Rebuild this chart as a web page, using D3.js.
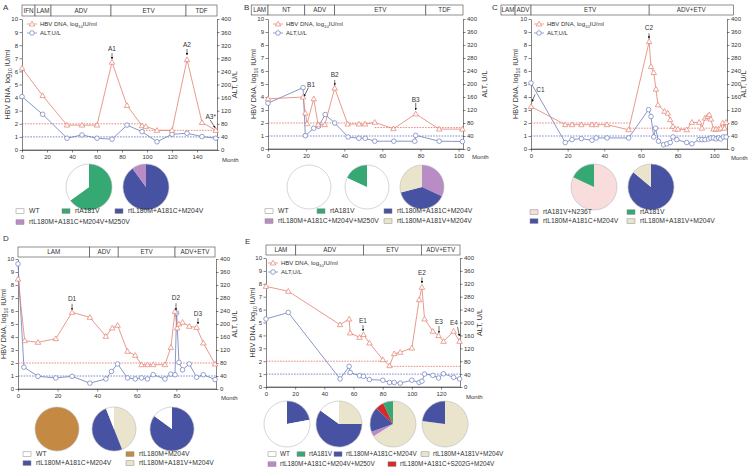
<!DOCTYPE html>
<html><head><meta charset="utf-8">
<script src="https://cdn.jsdelivr.net/npm/d3@7"></script>
<style>body{margin:0;background:#fff}svg{display:block}text{font-family:"Liberation Sans",Arial,sans-serif;fill:#333}</style>
</head><body><svg id="c" width="750" height="470"></svg>
<script>
// ---------- DATA ----------
const mutants = ["WT","rtA181V","rtL180M+A181C+M204V","rtL180M+A181C+M204V+M250V","rtL180M+A181V+M204V","rtA181V+N236T","rtL180M+M204V","rtL180M+A181C+S202G+M204V"];
const yTicksDNA = [0,1,2,3,4,5,6,7,8,9,10];
const yTicksALT = [0,40,80,120,160,200,240,280,320,360,400];

// Panel A
const aTreat = ["IFN","LAM","ADV","ETV","TDF"];
const aTreatBounds = [0,10.4,23.2,71.2,131.2,156];
const aXTicks = [0,20,40,60,80,100,120,140];
const aDnaMonth = [0,16.5,36,48,60,72,84,96,99,108,120,132,144,155];
const aDnaVal =   [6.25,4.15,1.9,1.9,1.9,6.7,3.4,1.85,1.8,1.5,1.5,6.9,2.1,1.5];
const aAltMonth = [0,16.5,36,48,60,72,84,96,108,120,132,144,155];
const aAltVal =   [163,109,36,46,36,33,76,56,25,48,51,41,36];
const aRedRef = [[0,97,2],[97,156,1.5]];
const aAnn = [["A1",72,7.7,7.4,6.95],["A2",132,8.0,7.7,7.25]];
const aPies = [[["rtA181V",65],["WT",35]],[["rtL180M+A181C+M204V",90],["rtL180M+A181C+M204V+M250V",10]]];
const aLegend = [["WT",0],["rtA181V",0],["rtL180M+A181C+M204V",0],["rtL180M+A181C+M204V+M250V",1]];

// Panel B
const bTreat = ["LAM","NT","ADV","ETV","TDF"];
const bTreatBounds = [-8.8,0,19.3,35,82.8,102.3];
const bXTicks = [0,20,40,60,80,100];
const bDnaMonth = [0,18.4,19.6,20.5,24,26.3,29.8,35,41.8,47.7,50.9,56,65.8,77.5,89.8,102];
const bDnaVal =   [3.86,4.0,2.76,1.95,3.86,1.87,1.87,4.68,1.92,1.92,1.92,2.05,1.56,2.7,1.53,1.53];
const bAltMonth = [0,18.4,19.6,24,26.5,30,35,42,47.7,51,56,66,77,77.5,89.8,102];
const bAltVal =   [141,189,41,64,70,106,80,37,33,33,24,24,24,42,24,23];
const bRedRef = [[0,56,2],[56,102.3,1.65]];
const bAnn = [["B2",35,5.7,5.3,4.9],["B3",77.5,3.8,3.55,3.0]];
const bPies = [[["WT",100]],[["WT",82],["rtA181V",18]],[["rtL180M+A181C+M204V+M250V",32],["rtL180M+A181C+M204V",39],["rtL180M+A181V+M204V",29]]];
const bLegend = [["WT",0],["rtA181V",0],["rtL180M+A181C+M204V",0],["rtL180M+A181C+M204V+M250V",1],["rtL180M+A181V+M204V",1]];

// Panel C
const cTreat = ["LAM","ADV","ETV","ADV+ETV"];
const cTreatBounds = [-16.4,-8.7,0,64.5,110.5];
const cXTicks = [0,20,40,60,80,100];
const cDnaMonth = [0,18.7,22.4,27.5,33.3,35.6,41.5,53.3,64.5,65.5,67,68.2,69.3,72.9,74.7,76,77.5,78.7,80.2,85,87.8,91.8,93.3,95,96.4,97.3,98.2,99.6,101,102.4,103.6,104.7,105.6,106.5];
const cDnaVal =   [3.27,1.87,1.87,1.87,1.87,1.87,1.87,1.48,8.26,6.34,5.88,4.6,3.4,2.9,2.76,2.25,1.74,1.53,1.53,1.48,2.05,2.05,1.6,2.38,2.5,2.63,2.3,1.53,1.53,1.53,1.6,2.0,1.6,2.05];
const cAltMonth = [0,18.7,22.4,27.5,33.3,35.6,41.5,53.3,64.2,65.5,67,68,69.6,72.4,74.2,76,77.5,79.6,85,87.8,91.8,93.3,95,96.9,98.2,99.6,101,102.4,103.6,105,106.5];
const cAltVal =   [203,20,29,32,27,34,34,34,121,100,37,64,24,13,16,20,37,29,20,16,29,29,29,31,34,34,31,34,31,37,37];
const cRedRef = [[0,54,2],[54,107,1.6]];
const cAnn = [["C2",64.4,9.28,8.9,8.5]];
const cPies = [[["rtA181V+N236T",82],["rtA181V",18]],[["rtL180M+A181C+M204V",86],["rtL180M+A181V+M204V",14]]];
const cLegend = [["rtA181V+N236T",0],["rtA181V",0],["rtL180M+A181C+M204V",1],["rtL180M+A181V+M204V",1]];

// Panel D
const dTreat = ["LAM","ADV","ETV","ADV+ETV"];
const dTreatBounds = [0,36.2,50.6,79.3,99.5];
const dXTicks = [0,20,40,60,80];
const dDnaMonth = [0,3.4,10.1,19.1,27.3,36.3,44.4,47.6,50.3,55.3,59.2,62.4,65.4,68.3,74.2,77.2,79.3,80.4,81.3,83.1,86.5,90.2,93.6,99.5];
const dDnaVal =   [8.46,3.72,3.59,3.87,5.9,5.51,4.05,4.69,4.9,2.9,2.59,1.87,1.87,1.87,1.87,3.2,5.97,4.69,5.0,5.13,4.82,4.74,3.54,1.92];
const dAltMonth = [0,3,10.1,19.1,27.3,36.3,44.4,47.2,50.3,55.3,59.2,62.4,65.4,68.3,74.2,77.2,79.3,80.1,81.3,83.1,86.5,90.2,93.6,99.5];
const dAltVal =   [385,67,39,34,39,18,31,54,77,34,31,34,31,44,31,46,44,234,82,59,77,36,44,29];
const dRedRef = [[0,100,2]];
const dAnn = [["D1",27.3,6.9,6.55,6.1],["D2",79.8,7.0,6.6,6.05],["D3",90.9,5.77,5.45,5.0]];
const dPies = [[["rtL180M+M204V",100]],[["rtL180M+A181V+M204V",44],["rtL180M+A181C+M204V",50],["WT",6]],[["rtL180M+A181C+M204V",85],["WT",15]]];
const dLegend = [["WT",0],["rtL180M+M204V",0],["rtL180M+A181C+M204V",1],["rtL180M+A181V+M204V",1]];

// Panel E
const eTreat = ["LAM","ADV","ETV","ADV+ETV"];
const eTreatBounds = [0,20.4,66.9,106.5,133];
const eXTicks = [0,20,40,60,80,100,120];
const eDnaMonth = [0,15.3,50.8,57,57.7,64.1,66.8,70.9,80.1,84.7,87.9,92,100,105,106.9,108.7,114.4,118.3,121.7,128.6,132.7];
const eDnaVal =   [7.8,7.42,4.83,5.27,4.19,3.85,4.06,3.41,2.12,1.65,2.58,2.69,3.02,6.77,7.73,5.27,4.32,3.98,3.54,4.32,3.54];
const eAltMonth = [0,15.3,50.8,57,57.7,64.1,66.8,70.9,80.1,84.7,87.9,92,100,105,106.9,108.7,114.4,118.3,121.7,128.6,132.7];
const eAltVal =   [211,231,25,64,45,35,33,23,21,14,14,12,21,14,18,40,36,28,41,30,25];
const eRedRef = [[0,84,2],[84,133,1.6]];
const eAnn = [["E1",66.5,5.1,4.8,4.35],["E2",106.9,8.84,8.5,8.05],["E3",118.6,5.04,4.73,4.2]];
const ePies = [[["rtL180M+A181C+M204V",22],["WT",78]],[["rtL180M+A181V+M204V",25],["rtL180M+A181C+M204V",60],["WT",15]],[["rtL180M+A181V+M204V",66],["rtL180M+A181C+M204V+M250V",3.5],["rtL180M+A181C+M204V",17.5],["rtL180M+A181C+S202G+M204V",6],["rtA181V",7]],[["rtL180M+A181V+M204V",77],["rtL180M+A181C+M204V",23]]];
const eLegend = [["WT",0],["rtA181V",0],["rtL180M+A181C+M204V",0],["rtL180M+A181V+M204V",0],["rtL180M+A181C+M204V+M250V",1],["rtL180M+A181C+S202G+M204V",1]];

// ---------- STYLE ----------
const mutColor = d3.scaleOrdinal().domain(mutants)
  .range(["#ffffff","#35a873","#4852a3","#b98cc6","#ebe4cc","#f9dcdc","#c48a44","#d42a2a"]);
const DNA_C = "#e2806e", ALT_C = "#6b7cbc", RED_REF = "#e05a4a", BLUE_REF = "#4a5aa8";

const svg = d3.select("#c");
svg.append("defs").append("marker").attr("id","ah").attr("viewBox","0 0 10 10")
  .attr("refX",9).attr("refY",5).attr("markerWidth",4).attr("markerHeight",4).attr("orient","auto")
  .append("path").attr("d","M0,0L10,5L0,10Z").attr("fill","#111");

function drawPanel(p){
  const g = svg.append("g");
  const x = d3.scaleLinear().domain([0,p.xMax]).range([p.x0,p.x1]);
  const yL = d3.scaleLinear().domain([0,10]).range([p.yBot,p.yTop]);
  const yR = d3.scaleLinear().domain([0,400]).range([p.yBot,p.yTop]);

  g.append("text").attr("x",p.letter[0]).attr("y",p.letter[1]).attr("font-size",8).text(p.name);

  // treatment bar
  p.treat.forEach((t,i)=>{
    const a = x(p.bounds[i]), b = x(p.bounds[i+1]);
    g.append("rect").attr("x",a).attr("y",p.barY).attr("width",b-a).attr("height",p.barH)
      .attr("fill","#fff").attr("stroke","#444").attr("stroke-width",0.6);
    g.append("text").attr("x",(a+b)/2).attr("y",p.barY+p.barH/2+2.3).attr("text-anchor","middle")
      .attr("font-size",6.3).text(t);
  });

  // axes
  const styleAxis = sel => {
    sel.selectAll("path,line").attr("stroke","#333").attr("stroke-width",0.6);
    sel.selectAll("text").attr("font-size",6).attr("fill","#333").attr("font-family",'"Liberation Sans",Arial,sans-serif');
  };
  g.append("g").attr("transform",`translate(${p.x0},0)`)
    .call(d3.axisLeft(yL).tickValues(yTicksDNA).tickSize(2.5).tickPadding(1.5).tickSizeOuter(0)).call(styleAxis);
  g.append("g").attr("transform",`translate(${p.x1},0)`)
    .call(d3.axisRight(yR).tickValues(yTicksALT).tickSize(2.5).tickPadding(1.5).tickSizeOuter(0)).call(styleAxis);
  g.append("g").attr("transform",`translate(0,${p.yBot})`)
    .call(d3.axisBottom(x).tickValues(p.xTicks).tickSize(2.5).tickPadding(2).tickSizeOuter(0)).call(styleAxis);
  g.append("line").attr("x1",p.x0).attr("x2",p.x1).attr("y1",p.yBot).attr("y2",p.yBot).attr("stroke","#333").attr("stroke-width",0.6);

  g.append("text").attr("x",p.monthXY[0]).attr("y",p.monthXY[1]).attr("font-size",6).text("Month");

  const midY = (p.yTop+p.yBot)/2;
  const lt = g.append("text").attr("transform",`translate(${p.titleL},${midY}) rotate(-90)`)
    .attr("text-anchor","middle").attr("font-size",7.2);
  lt.append("tspan").text("HBV DNA, log");
  lt.append("tspan").attr("font-size",5).attr("dy",1.8).text("10");
  lt.append("tspan").attr("dy",-1.8).text(" IU/ml");
  g.append("text").attr("transform",`translate(${p.titleR},${midY}) rotate(-90)`)
    .attr("text-anchor","middle").attr("font-size",7.2).text("ALT, U/L");

  // reference lines
  p.redRef.forEach(r=>{
    g.append("line").attr("x1",x(r[0])).attr("x2",x(r[1])).attr("y1",yL(r[2])).attr("y2",yL(r[2]))
      .attr("stroke",RED_REF).attr("stroke-width",0.7).attr("stroke-dasharray","1.6,1.2");
  });
  g.append("line").attr("x1",x(0)).attr("x2",x(p.xMax)).attr("y1",yL(1)).attr("y2",yL(1))
    .attr("stroke",BLUE_REF).attr("stroke-width",0.7).attr("stroke-dasharray","1.6,1.2");

  // series
  const alt = p.altMonth.map((m,i)=>[m,p.altVal[i]]);
  const dna = p.dnaMonth.map((m,i)=>[m,p.dnaVal[i]]);
  g.append("path").datum(alt).attr("d",d3.line().x(d=>x(d[0])).y(d=>yR(d[1])))
    .attr("fill","none").attr("stroke",ALT_C).attr("stroke-width",0.8);
  g.append("path").datum(dna).attr("d",d3.line().x(d=>x(d[0])).y(d=>yL(d[1])))
    .attr("fill","none").attr("stroke",DNA_C).attr("stroke-width",0.8);
  const tri = d3.symbol().type(d3.symbolTriangle).size(13);
  g.selectAll(null).data(alt).join("circle").attr("cx",d=>x(d[0])).attr("cy",d=>yR(d[1])).attr("r",2.3)
    .attr("fill","#fff").attr("stroke",ALT_C).attr("stroke-width",0.7);
  g.selectAll(null).data(dna).join("path").attr("d",tri)
    .attr("transform",d=>`translate(${x(d[0])},${yL(d[1])+0.4})`)
    .attr("fill","#fff").attr("stroke",DNA_C).attr("stroke-width",0.7);

  // in-plot legend
  if (p.leg){
    const [lx,ly] = p.leg;
    g.append("line").attr("x1",lx-5).attr("x2",lx+5).attr("y1",ly).attr("y2",ly).attr("stroke",DNA_C).attr("stroke-width",0.7);
    g.append("path").attr("d",tri).attr("transform",`translate(${lx},${ly+0.4})`).attr("fill","#fff").attr("stroke",DNA_C).attr("stroke-width",0.7);
    const t1 = g.append("text").attr("x",lx+8).attr("y",ly+2.2).attr("font-size",6);
    t1.append("tspan").text("HBV DNA, log");
    t1.append("tspan").attr("font-size",4.3).attr("dy",1.5).text("10");
    t1.append("tspan").attr("dy",-1.5).text("IU/ml");
    g.append("line").attr("x1",lx-5).attr("x2",lx+5).attr("y1",ly+9).attr("y2",ly+9).attr("stroke",ALT_C).attr("stroke-width",0.7);
    g.append("circle").attr("cx",lx).attr("cy",ly+9).attr("r",2.3).attr("fill","#fff").attr("stroke",ALT_C).attr("stroke-width",0.7);
    g.append("text").attr("x",lx+8).attr("y",ly+11.2).attr("font-size",6).text("ALT,U/L");
  }

  // annotations (data units)
  const ann = (lab,m,v,v1,v2,m1,m2,anchor)=>{
    g.append("text").attr("x",x(m)).attr("y",yL(v)+2).attr("text-anchor",anchor||"middle").attr("font-size",6.5).text(lab);
    g.append("line").attr("x1",x(m1==null?m:m1)).attr("x2",x(m2==null?m:m2)).attr("y1",yL(v1)).attr("y2",yL(v2))
      .attr("stroke","#111").attr("stroke-width",0.6).attr("marker-end","url(#ah)");
  };
  p.ann.forEach(a=>ann(a[0],a[1],a[2],a[3],a[4]));
  (p.extraAnn||[]).forEach(a=>ann(...a));

  // pies
  const pie = d3.pie().sort(null).value(d=>d[1]);
  p.pies.forEach((pd,i)=>{
    const [cx,cy] = p.pieC[i];
    const arc = d3.arc().innerRadius(0).outerRadius(p.pieR);
    const pg = g.append("g").attr("transform",`translate(${cx},${cy})`);
    pg.selectAll(null).data(pie(pd)).join("path").attr("d",arc).attr("fill",d=>mutColor(d.data[0]));
    pg.append("circle").attr("r",p.pieR).attr("fill","none").attr("stroke","#bbb").attr("stroke-width",0.6);
  });

  // pie legend
  const lf = p.legFont || 6.8, bo = p.boxOff || 13;
  p.legend.forEach((l,i)=>{
    const tx = p.legX[i], ty = p.legY[l[1]];
    g.append("rect").attr("x",tx-bo).attr("y",ty-4.2).attr("width",8).attr("height",4.6)
      .attr("fill",mutColor(l[0])).attr("stroke","#888").attr("stroke-width",0.5);
    g.append("text").attr("x",tx).attr("y",ty).attr("font-size",lf).text(l[0]);
  });
}

drawPanel({name:"A",letter:[3,10],x0:22,x1:217,yTop:19,yBot:150,xMax:156,xTicks:aXTicks,
  treat:aTreat,bounds:aTreatBounds,barY:5,barH:11,
  dnaMonth:aDnaMonth,dnaVal:aDnaVal,altMonth:aAltMonth,altVal:aAltVal,redRef:aRedRef,
  ann:aAnn,extraAnn:[["A3*",151,2.55,2.3,1.7,150.5,154.5]],
  leg:[32,24],monthXY:[222,162],titleL:10,titleR:237,
  pies:aPies,pieC:[[89,187],[146,187]],pieR:23,
  legend:aLegend,legX:[29,75,128,29],legY:[213,224]});

drawPanel({name:"B",letter:[244,10],x0:268,x1:463,yTop:19,yBot:149,xMax:102.3,xTicks:bXTicks,
  treat:bTreat,bounds:bTreatBounds,barY:5,barH:10,
  dnaMonth:bDnaMonth,dnaVal:bDnaVal,altMonth:bAltMonth,altVal:bAltVal,redRef:bRedRef,
  ann:bAnn,extraAnn:[["B1",22.6,4.9,4.72,4.05,21.2,19.0]],
  leg:[278,24],monthXY:[472,159],titleL:256,titleR:487,
  pies:bPies,pieC:[[309,187],[367,187],[422,187]],pieR:22,
  legend:bLegend,legX:[278,330,397,278,397],legY:[213,223]});

drawPanel({name:"C",letter:[492,10],x0:531,x1:727,yTop:19,yBot:149,xMax:107,xTicks:cXTicks,
  treat:cTreat,bounds:cTreatBounds,barY:5,barH:10,
  dnaMonth:cDnaMonth,dnaVal:cDnaVal,altMonth:cAltMonth,altVal:cAltVal,redRef:cRedRef,
  ann:cAnn,extraAnn:[["C1",5.2,4.55,4.2,3.65,2.2,0.6]],
  leg:[539,24],monthXY:[731,160],titleL:518,titleR:746,
  pies:cPies,pieC:[[594,187],[651,187]],pieR:23,
  legend:cLegend,legX:[543,640,543,640],legY:[214,223]});

drawPanel({name:"D",letter:[3,241],x0:18,x1:216,yTop:259,yBot:389,xMax:100,xTicks:dXTicks,
  treat:dTreat,bounds:dTreatBounds,barY:247,barH:10,
  dnaMonth:dDnaMonth,dnaVal:dDnaVal,altMonth:dAltMonth,altVal:dAltVal,redRef:dRedRef,
  ann:dAnn,leg:null,monthXY:[221,400],titleL:6,titleR:237,
  pies:dPies,pieC:[[57,429],[114,429],[172,429]],pieR:22,
  legend:dLegend,legX:[36,139,36,139],legY:[456,465]});

drawPanel({name:"E",letter:[245,244],x0:266,x1:460,yTop:258,yBot:387,xMax:133,xTicks:eXTicks,
  treat:eTreat,bounds:eTreatBounds,barY:245,barH:10,
  dnaMonth:eDnaMonth,dnaVal:eDnaVal,altMonth:eAltMonth,altVal:eAltVal,redRef:eRedRef,
  ann:eAnn,extraAnn:[["E4",128.9,4.96,4.65,3.95,131.3,132.6]],
  leg:[273,263],monthXY:[466,399],titleL:255,titleR:482,
  pies:ePies,pieC:[[287,424],[339,424],[393,424],[445,424]],pieR:23,
  legend:eLegend,legX:[280,309,346,433,280,400],legY:[456,466],legFont:6.4,boxOff:12});
</script></body></html>
